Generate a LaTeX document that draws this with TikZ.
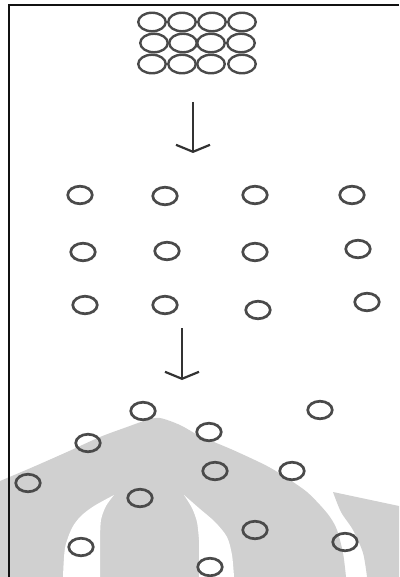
\documentclass[tikz,border=0pt]{standalone}
\usetikzlibrary{positioning, arrows.meta, shapes.geometric}
\definecolor{clrring}{HTML}{4A4A4A}
\definecolor{clrarrow}{HTML}{333333}
\definecolor{clrframe}{HTML}{111111}
\definecolor{clrwatermark}{HTML}{D0D0D0}

\begin{document}
\begin{tikzpicture}[
    x=1pt, y=-1pt,
    ring/.style={draw=clrring, ellipse, inner sep=0, line width=2.7pt,
                 minimum width=24.5pt, minimum height=17.5pt},
    packedring/.style={ring, line width=2.4pt, minimum width=27.5pt, minimum height=18.5pt},
    arrow/.style={-{Straight Barb[length=7pt, width=34pt]}, color=clrarrow, line width=2.2pt},
    frameline/.style={draw=clrframe, line width=2.4pt, line join=miter},
    watermark/.style={fill=clrwatermark},
    gap/.style={fill=white},
]
\useasboundingbox (0,0) rectangle (399,577);
% watermark in the lower part
\fill[watermark] (0,577) -- (0,481) -- plot[smooth] coordinates {(0,481) (33,467) (67,452) (100,437) (127,427) (147,420) (160,418) (180,425) (200,436) (233,450) (267,466) (290,480) (307,492) (320,505) (330,517) (337,530) (343,553) (346,577)} -- cycle;
\fill[gap] (63,577) -- plot[smooth] coordinates {(63,577) (65,548) (72,528) (81,516) (94,506) (114,495)} -- plot[smooth] coordinates {(114,495) (106,506) (101,520) (100,540)} -- (100,577) -- cycle;
\fill[gap] (199,577) -- (199,540) -- plot[smooth] coordinates {(199,540) (197,522) (192,508) (184,495)} -- plot[smooth] coordinates {(184,495) (200,509) (215,522) (227,537) (232,555) (234,577)} -- cycle;
\fill[watermark] (333,492) -- (399,506) -- (399,577) -- (367,577) -- plot[smooth] coordinates {(367,577) (363,553) (353,530) (341,512) (333,492)} -- cycle;
% frame
\draw[frameline] (399,5) -- (9,5) -- (9,577);
% packed rings
\node[packedring] (c_1) at (152,22) {};
\node[packedring] (c_2) at (182,22) {};
\node[packedring] (c_3) at (212,22) {};
\node[packedring] (c_4) at (242,22) {};
\node[packedring] (c_5) at (154,43) {};
\node[packedring] (c_6) at (183,43) {};
\node[packedring] (c_7) at (211,43) {};
\node[packedring] (c_8) at (241,43) {};
\node[packedring] (c_9) at (152,64) {};
\node[packedring] (c_10) at (182,64) {};
\node[packedring] (c_11) at (211,64) {};
\node[packedring] (c_12) at (242,64) {};
% spread rings
\node[ring] (s_1) at (80,195) {};
\node[ring] (s_2) at (165,196) {};
\node[ring] (s_3) at (255,195) {};
\node[ring] (s_4) at (352,195) {};
\node[ring] (s_5) at (83,252) {};
\node[ring] (s_6) at (167,251) {};
\node[ring] (s_7) at (255,252) {};
\node[ring] (s_8) at (358,249) {};
\node[ring] (s_9) at (85,305) {};
\node[ring] (s_10) at (165,305) {};
\node[ring] (s_11) at (258,310) {};
\node[ring] (s_12) at (367,302) {};
% scattered rings
\node[ring] (d_1) at (143,411) {};
\node[ring] (d_2) at (320,410) {};
\node[ring] (d_3) at (88,443) {};
\node[ring] (d_4) at (209,432) {};
\node[ring] (d_5) at (215,471) {};
\node[ring] (d_6) at (292,471) {};
\node[ring] (d_7) at (28,483) {};
\node[ring] (d_8) at (140,498) {};
\node[ring] (d_9) at (255,530) {};
\node[ring] (d_10) at (345,542) {};
\node[ring] (d_11) at (81,547) {};
\node[ring] (d_12) at (210,567) {};
% arrows
\coordinate (a_1_from) at (193,102);
\coordinate (a_1_to) at (193,153);
\coordinate (a_2_from) at (182,328);
\coordinate (a_2_to) at (182,380);
\draw[arrow] (a_1_from) -- (a_1_to);
\draw[arrow] (a_2_from) -- (a_2_to);
\end{tikzpicture}
\end{document}
